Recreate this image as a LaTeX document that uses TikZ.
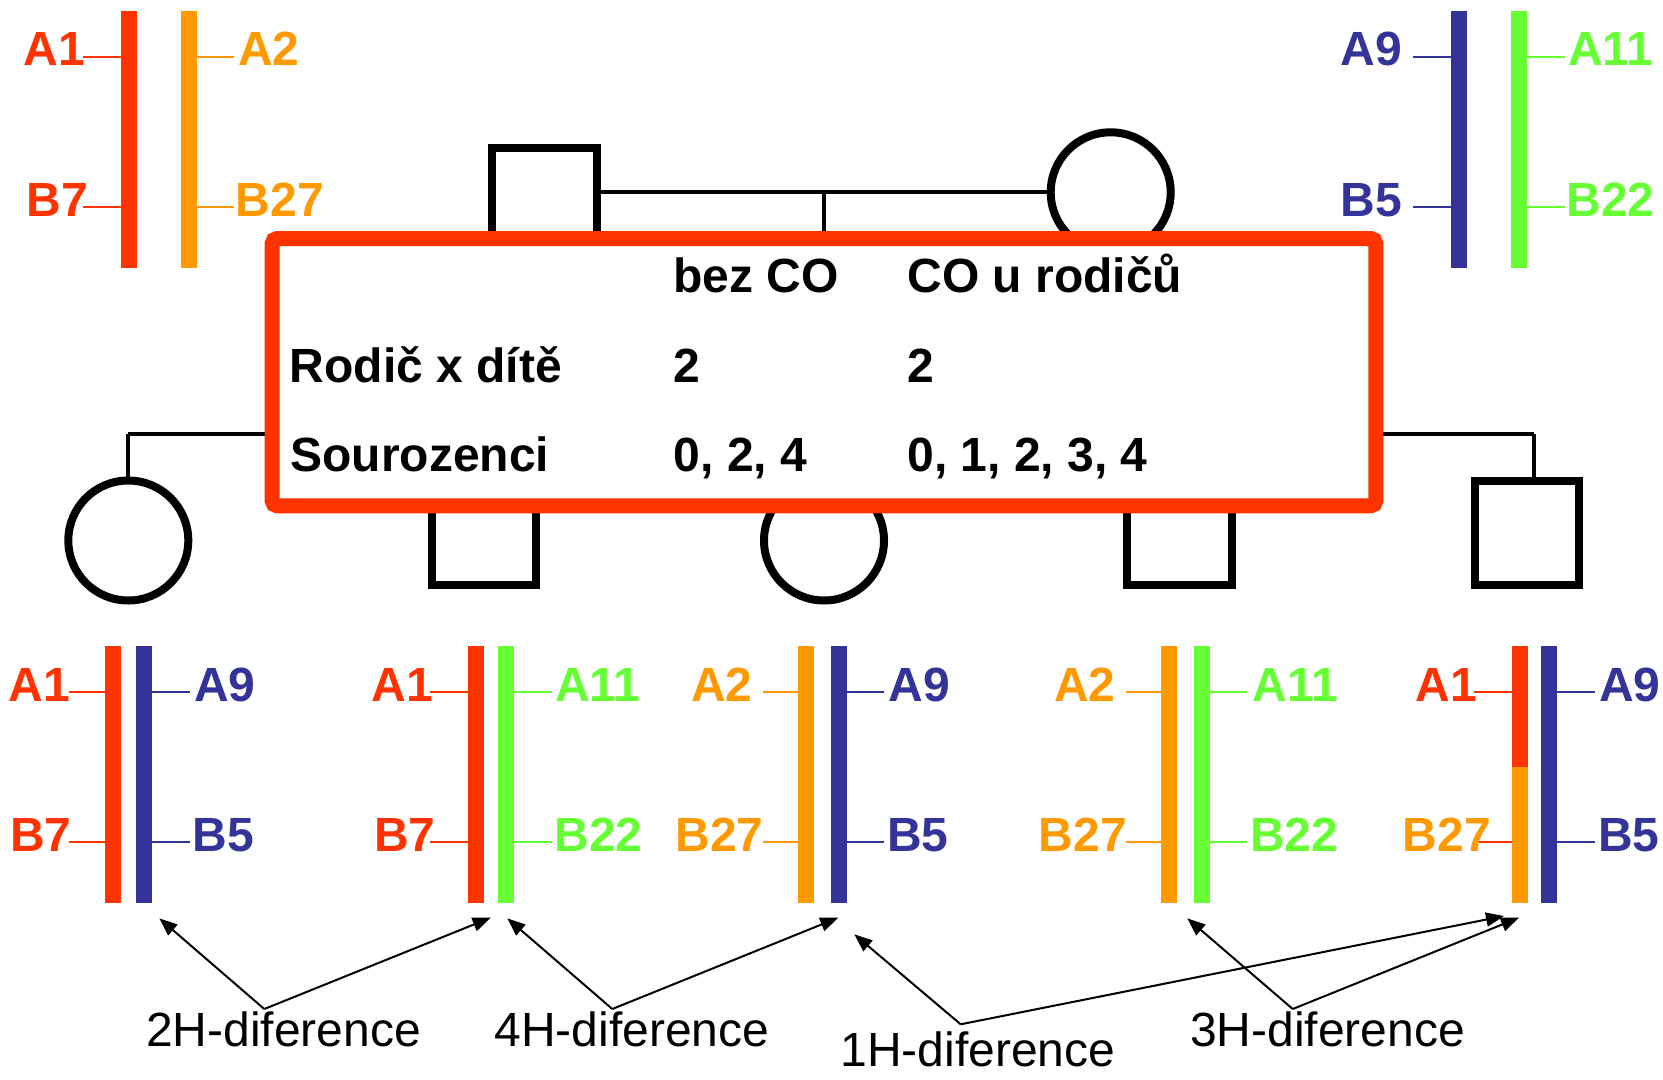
\documentclass[tikz,border=0pt]{standalone}
\usepackage{fontspec}
\setmainfont{Liberation Sans}
\usetikzlibrary{arrows.meta,calc}
\definecolor{cred}{HTML}{FF3300}
\definecolor{corange}{HTML}{FF9900}
\definecolor{cblue}{HTML}{333399}
\definecolor{cgreen}{HTML}{66FF33}
\begin{document}
\begin{tikzpicture}[x=0.5pt,y=-0.5pt,
  lbl/.style={font=\fontsize{24}{28}\selectfont\bfseries, inner sep=0pt, outer sep=0pt},
  lbll/.style={lbl, anchor=base east},
  lblr/.style={lbl, anchor=base west},
  tbl/.style={font=\fontsize{24}{28}\selectfont\bfseries, inner sep=0pt, anchor=base west},
  diff/.style={font=\fontsize{24}{28}\selectfont, inner sep=0pt, anchor=base west},
  tick/.style={line width=1pt},
  pedline/.style={line width=2pt},
  person/.style={draw, line width=4pt, fill=white, inner sep=0pt},
  female/.style={person, circle, minimum size=60pt},
  male/.style={person, rectangle, minimum size=52.3pt},
  tablebox/.style={draw=cred, line width=7.5pt, fill=white, rounded corners=2.5pt,
     minimum width=551.8pt, minimum height=133.6pt, inner sep=0pt},
  arr/.style={line width=1pt, -{Triangle[length=9pt,width=7pt]}},
]
\useasboundingbox (0,0) rectangle (1663,1080);

% ---------- top left chromosome pair ----------
\fill[cred] (120.7,11) rectangle (136.7,267.7);
\fill[corange] (181,11) rectangle (197,267.7);
\draw[tick,cred] (83,56.7) -- (120.7,56.7);
\draw[tick,cred] (83,207.3) -- (120.7,207.3);
\draw[tick,corange] (197,56.7) -- (234,56.7);
\draw[tick,corange] (197,207.3) -- (234,207.3);
\node[lbll,cred] (tlA1) at (85,66) {A1};
\node[lbll,cred] (tlB7) at (88,216.6) {B7};
\node[lblr,corange] (tlA2) at (238.3,66) {A2};
\node[lblr,corange] (tlB27) at (235.8,216.6) {B27};

% ---------- top right chromosome pair ----------
\fill[cblue] (1451,11) rectangle (1467,267.7);
\fill[cgreen] (1511,11) rectangle (1527,267.7);
\draw[tick,cblue] (1413,56.7) -- (1451,56.7);
\draw[tick,cblue] (1413,207.3) -- (1451,207.3);
\draw[tick,cgreen] (1527,56.7) -- (1565,56.7);
\draw[tick,cgreen] (1527,207.3) -- (1565,207.3);
\node[lbll,cblue] (trA9) at (1402,66) {A9};
\node[lbll,cblue] (trB5) at (1402,216.6) {B5};
\node[lblr,cgreen] (trA11) at (1568,66) {A11};
\node[lblr,cgreen] (trB22) at (1566.5,216.6) {B22};

% ---------- pedigree ----------
\node[male] (dad) at (544.5,200.3) {};
\node[female] (mom) at (1110.7,192.3) {};
\coordinate (mid) at ($(dad.east |- mom.west)!0.5!(mom.west)$);
\draw[pedline] (dad.east |- mom.west) -- (mom.west);
\draw[pedline] (mid) -- (mid |- 0,434.3);
\coordinate (sibL) at (128.3,434.3);
\coordinate (sibR) at (1534.3,434.3);
\draw[pedline] (sibL) -- (sibR);
\node[female] (c1) at (128.3,540.5) {};
\node[male] (c2) at (484,533) {};
\node[female] (c3) at (824,540.5) {};
\node[male] (c4) at (1179.3,533) {};
\node[male] (c5) at (1527,533) {};
\draw[pedline] (sibL) -- (c1.north);
\draw[pedline] (sibR) -- (sibR |- c5.north);

% ---------- table ----------
\node[tablebox] (tab) at (824,372.15) {};
\node[tbl] (h1) at (673,293) {bez CO};
\node[tbl] (h2) at (907,293) {CO u rodičů};
\node[tbl] (r1) at (289.5,382) {Rodič x dítě};
\node[tbl] (r1a) at (673.5,382) {2};
\node[tbl] (r1b) at (907,382) {2};
\node[tbl] (r2) at (290,471) {Sourozenci};
\node[tbl] (r2a) at (673.5,471) {0, 2, 4};
\node[tbl] (r2b) at (907,471) {0, 1, 2, 3, 4};

% ---------- bottom chromosome pairs ----------
% pair 1
\fill[cred] (105,646) rectangle (121,902.7);
\fill[cblue] (136,646) rectangle (152,902.7);
\draw[tick,cred] (68.5,691.7) -- (105,691.7);
\draw[tick,cred] (68.5,842.3) -- (105,842.3);
\draw[tick,cblue] (152,691.7) -- (190,691.7);
\draw[tick,cblue] (152,842.3) -- (190,842.3);
\node[lbll,cred] (p1A1) at (70,701) {A1};
\node[lbll,cred] (p1B7) at (71.4,851.6) {B7};
\node[lblr,cblue] (p1A9) at (194.3,701) {A9};
\node[lblr,cblue] (p1B5) at (192.5,851.6) {B5};
% pair 2
\fill[cred] (468,646) rectangle (484,902.7);
\fill[cgreen] (498,646) rectangle (514,902.7);
\draw[tick,cred] (430,691.7) -- (468,691.7);
\draw[tick,cred] (430,842.3) -- (468,842.3);
\draw[tick,cgreen] (514,691.7) -- (551.6,691.7);
\draw[tick,cgreen] (514,842.3) -- (551.6,842.3);
\node[lbll,cred] (p2A1) at (433,701) {A1};
\node[lbll,cred] (p2B7) at (435.6,851.6) {B7};
\node[lblr,cgreen] (p2A11) at (555,701) {A11};
\node[lblr,cgreen] (p2B22) at (554.5,851.6) {B22};
% pair 3
\fill[corange] (798,646) rectangle (814,902.7);
\fill[cblue] (831,646) rectangle (847,902.7);
\draw[tick,corange] (762.8,691.7) -- (798,691.7);
\draw[tick,corange] (762.8,842.3) -- (798,842.3);
\draw[tick,cblue] (847,691.7) -- (884.4,691.7);
\draw[tick,cblue] (847,842.3) -- (884.4,842.3);
\node[lbll,corange] (p3A2) at (752.5,701) {A2};
\node[lbll,corange] (p3B27) at (763.5,851.6) {B27};
\node[lblr,cblue] (p3A9) at (888.8,701) {A9};
\node[lblr,cblue] (p3B5) at (887.2,851.6) {B5};
% pair 4
\fill[corange] (1161,646) rectangle (1177,902.7);
\fill[cgreen] (1194,646) rectangle (1210,902.7);
\draw[tick,corange] (1125.8,691.7) -- (1161,691.7);
\draw[tick,corange] (1125.8,842.3) -- (1161,842.3);
\draw[tick,cgreen] (1210,691.7) -- (1247.4,691.7);
\draw[tick,cgreen] (1210,842.3) -- (1247.4,842.3);
\node[lbll,corange] (p4A2) at (1115.5,701) {A2};
\node[lbll,corange] (p4B27) at (1127,851.6) {B27};
\node[lblr,cgreen] (p4A11) at (1252.4,701) {A11};
\node[lblr,cgreen] (p4B22) at (1250.2,851.6) {B22};
% pair 5 (recombinant)
\fill[cred] (1512,646) rectangle (1528,766.7);
\fill[corange] (1512,766.7) rectangle (1528,902.7);
\fill[cblue] (1541,646) rectangle (1557,902.7);
\node[lbll,cred] (p5A1) at (1477,701) {A1};
\node[lbll,corange] (p5B27) at (1490.8,851.6) {B27};
\draw[tick,cred] (1474.4,691.7) -- (1512,691.7);
\draw[tick,cred] (1479,842.3) -- (1512,842.3);
\draw[tick,cblue] (1557,691.7) -- (1595,691.7);
\draw[tick,cblue] (1557,842.3) -- (1595,842.3);
\node[lblr,cblue] (p5A9) at (1599.1,701) {A9};
\node[lblr,cblue] (p5B5) at (1598.1,851.6) {B5};

% ---------- difference labels and arrows ----------
\node[diff] (d2) at (145.7,1046.7) {2H-diference};
\node[diff] (d4) at (494,1046.7) {4H-diference};
\node[diff] (d1) at (840,1066) {1H-diference};
\node[diff] (d3) at (1189.7,1046.7) {3H-diference};

\coordinate (a2) at (264.3,1009);
\coordinate (a4) at (612.3,1009);
\coordinate (a1) at (960.7,1024.3);
\coordinate (a3) at (1292.7,1009);

\coordinate (t1) at (159.3,918.3);
\coordinate (t2) at (490.7,917.7);
\coordinate (t3) at (507.3,918.3);
\coordinate (t4) at (838.3,917.7);
\coordinate (t5) at (854.3,934.3);
\coordinate (t6) at (1504,916);
\coordinate (t7) at (1187.3,918.3);
\coordinate (t8) at (1519,917.7);

\draw[arr] (a2) -- (t1);
\draw[arr] (a2) -- (t2);
\draw[arr] (a4) -- (t3);
\draw[arr] (a4) -- (t4);
\draw[arr] (a1) -- (t5);
\draw[arr] (a1) -- (t6);
\draw[arr] (a3) -- (t7);
\draw[arr] (a3) -- (t8);
\end{tikzpicture}
\end{document}
